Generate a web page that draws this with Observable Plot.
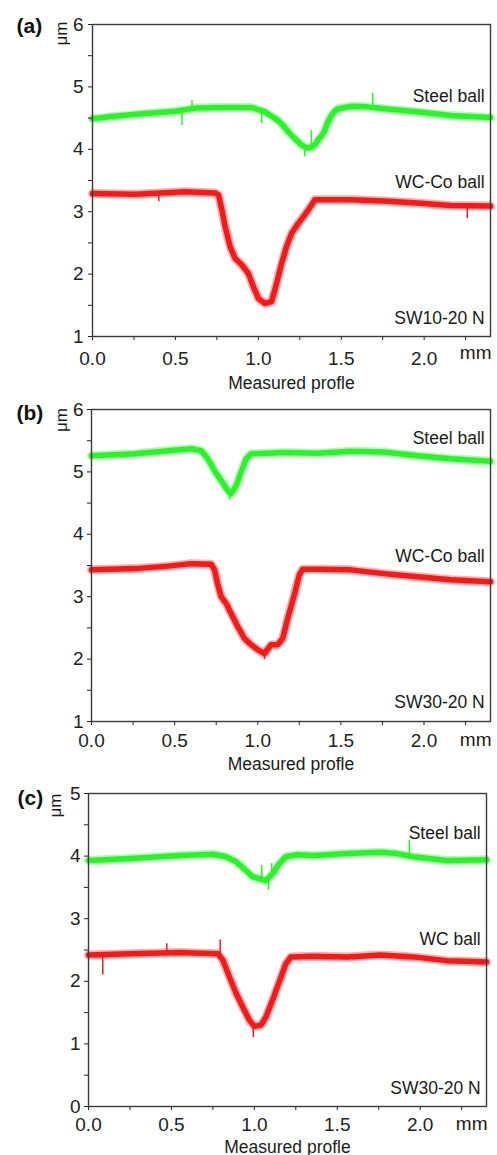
<!DOCTYPE html>
<html>
<head>
<meta charset="utf-8">
<script src="https://cdn.jsdelivr.net/npm/d3@7"></script>
<script src="https://cdn.jsdelivr.net/npm/@observablehq/plot@0.6"></script>
<style>
  body { margin: 0; background: #fff; width: 497px; }
  #chart svg { display: block; }
</style>
</head>
<body>
<div id="chart"></div>
<script>
// ---------- data ----------
const xMajorTicks = [0, 0.5, 1.0, 1.5, 2.0];
const xMinorTicks = [0.25, 0.75, 1.25, 1.75, 2.25];

// Panel (a) SW10-20 N
const aSteelX = [0, 0.1, 0.26, 0.4, 0.5, 0.62, 0.76, 0.96, 1.04, 1.08, 1.12, 1.15, 1.18, 1.21, 1.24, 1.26, 1.28, 1.30, 1.32, 1.34, 1.36, 1.38, 1.40, 1.42, 1.44, 1.46, 1.48, 1.56, 1.66, 1.76, 1.96, 2.16, 2.4];
const aSteelY = [4.49, 4.52, 4.56, 4.59, 4.61, 4.66, 4.67, 4.67, 4.60, 4.53, 4.46, 4.38, 4.28, 4.20, 4.12, 4.07, 4.04, 4.02, 4.04, 4.07, 4.15, 4.21, 4.30, 4.44, 4.54, 4.61, 4.65, 4.69, 4.68, 4.65, 4.60, 4.54, 4.51];
const aRedX = [0, 0.26, 0.56, 0.74, 0.76, 0.78, 0.80, 0.83, 0.86, 0.90, 0.94, 0.97, 1.00, 1.04, 1.08, 1.11, 1.14, 1.17, 1.20, 1.24, 1.28, 1.32, 1.34, 1.40, 1.56, 1.76, 1.96, 2.16, 2.4];
const aRedY = [3.29, 3.28, 3.32, 3.30, 3.27, 3.03, 2.76, 2.44, 2.25, 2.15, 2.01, 1.80, 1.61, 1.53, 1.56, 1.85, 2.17, 2.44, 2.65, 2.81, 2.95, 3.10, 3.19, 3.19, 3.19, 3.17, 3.14, 3.10, 3.09];
const aSpikeX  = [0.54, 0.60, 1.02, 1.69, 1.32, 1.28, 2.26, 0.40];
const aSpikeY1 = [4.58, 4.64, 4.60, 4.68, 4.04, 4.04, 3.10, 3.29];
const aSpikeY2 = [4.38, 4.78, 4.41, 4.90, 4.30, 3.88, 2.89, 3.16];
const aSpikeSeries = ["steel", "steel", "steel", "steel", "steel", "steel", "ball", "ball"];

// Panel (b) SW30-20 N
const bSteelX = [0, 0.26, 0.46, 0.6, 0.66, 0.70, 0.74, 0.78, 0.82, 0.84, 0.87, 0.90, 0.93, 0.96, 1.16, 1.36, 1.56, 1.76, 1.96, 2.16, 2.4];
const bSteelY = [5.26, 5.29, 5.34, 5.37, 5.34, 5.21, 5.02, 4.86, 4.70, 4.65, 4.78, 5.00, 5.21, 5.29, 5.31, 5.30, 5.33, 5.32, 5.26, 5.21, 5.17];
const bRedX = [0, 0.26, 0.46, 0.6, 0.72, 0.74, 0.76, 0.78, 0.81, 0.84, 0.88, 0.92, 0.96, 1.00, 1.04, 1.08, 1.12, 1.15, 1.18, 1.22, 1.25, 1.27, 1.36, 1.56, 1.76, 1.96, 2.16, 2.4];
const bRedY = [3.43, 3.45, 3.49, 3.53, 3.52, 3.43, 3.19, 3.00, 2.89, 2.73, 2.52, 2.33, 2.23, 2.15, 2.09, 2.23, 2.23, 2.33, 2.65, 3.03, 3.35, 3.44, 3.44, 3.43, 3.37, 3.32, 3.27, 3.24];
const bSpikeX  = [0.83, 1.04];
const bSpikeY1 = [4.68, 2.12];
const bSpikeY2 = [4.55, 1.99];
const bSpikeSeries = ["steel", "ball"];

// Panel (c) SW30-20 N
const cSteelX = [0, 0.25, 0.55, 0.75, 0.83, 0.89, 0.95, 0.99, 1.03, 1.07, 1.11, 1.15, 1.19, 1.25, 1.36, 1.56, 1.76, 1.86, 1.96, 2.16, 2.4];
const cSteelY = [3.93, 3.96, 4.01, 4.03, 3.99, 3.91, 3.77, 3.67, 3.64, 3.61, 3.72, 3.88, 3.99, 4.02, 4.01, 4.04, 4.06, 4.04, 3.99, 3.93, 3.94];
const cRedX = [0, 0.25, 0.55, 0.78, 0.81, 0.85, 0.89, 0.93, 0.97, 1.00, 1.04, 1.07, 1.11, 1.15, 1.19, 1.22, 1.36, 1.56, 1.76, 1.96, 2.16, 2.4];
const cRedY = [2.42, 2.44, 2.46, 2.44, 2.34, 2.07, 1.81, 1.59, 1.38, 1.28, 1.30, 1.43, 1.70, 1.99, 2.28, 2.39, 2.40, 2.39, 2.42, 2.39, 2.33, 2.31];
const cSpikeX  = [1.935, 1.045, 1.105, 1.085, 0.086, 0.794, 0.472, 0.994];
const cSpikeY1 = [4.03, 3.64, 3.70, 3.62, 2.42, 2.44, 2.45, 1.30];
const cSpikeY2 = [4.25, 3.85, 3.88, 3.45, 2.10, 2.66, 2.60, 1.10];
const cSpikeSeries = ["steel", "steel", "steel", "steel", "ball", "ball", "ball", "ball"];

const seriesColors = {steel: "#2cf22c", ball: "#f41a1a"};

// ---------- drawing ----------
const FONT = "'Liberation Sans', Arial, Helvetica, sans-serif";

function pts(xs, ys) { return xs.map((x, i) => ({x, y: ys[i]})); }

function panel(cfg) {
  const steel = pts(cfg.steelX, cfg.steelY);
  const ball = pts(cfg.redX, cfg.redY);
  const spikes = cfg.spikeX.map((x, i) => ({x, y1: cfg.spikeY1[i], y2: cfg.spikeY2[i], s: cfg.spikeS[i]}));
  const yMajor = d3.range(cfg.yDomain[0], cfg.yDomain[1] + 0.001, 1);
  const yMinor = d3.range(cfg.yDomain[0] + 0.5, cfg.yDomain[1], 1);
  const lbl = (text, y) => Plot.text([text], {x: 2.365, y, text: d => d, textAnchor: "end", lineAnchor: "bottom", fontSize: 17.5, fill: "#1a1a1a"});
  return Plot.plot({
    width: 497,
    height: cfg.height,
    marginTop: cfg.mt, marginBottom: cfg.mb, marginLeft: cfg.ml, marginRight: cfg.mr,
    x: {domain: [0, 2.4], label: null},
    y: {domain: cfg.yDomain, label: null},
    style: {fontFamily: FONT, fontSize: "19px", color: "#222", background: "white", overflow: "visible"},
    marks: [
      // noisy profile bands
      Plot.line(steel, {x: "x", y: "y", stroke: seriesColors.steel, strokeWidth: 9, strokeOpacity: 0.35}),
      Plot.line(steel, {x: "x", y: "y", stroke: seriesColors.steel, strokeWidth: 5.5}),
      Plot.line(ball, {x: "x", y: "y", stroke: seriesColors.ball, strokeWidth: 9, strokeOpacity: 0.35}),
      Plot.line(ball, {x: "x", y: "y", stroke: seriesColors.ball, strokeWidth: 5.5}),
      Plot.ruleX(spikes, {x: "x", y1: "y1", y2: "y2", stroke: d => seriesColors[d.s], strokeWidth: 1.5}),
      // axes
      Plot.axisY({ticks: yMajor, tickSize: 4, tickPadding: cfg.ypad, tickFormat: d3.format("d"), label: null, fontSize: 19}),
      Plot.axisY({ticks: yMinor, tickSize: 4, text: null, label: null}),
      Plot.axisX({ticks: xMajorTicks, tickSize: 4, tickPadding: cfg.xpad, tickFormat: d3.format(".1f"), label: null, fontSize: 19}),
      Plot.axisX({ticks: xMinorTicks, tickSize: 4, text: null, label: null}),
      Plot.frame({stroke: "#3a3a3a", strokeWidth: 1.4}),
      // annotations
      lbl("Steel ball", cfg.steelLblY),
      lbl(cfg.ballName, cfg.ballLblY),
      lbl(cfg.sample, cfg.sampleLblY),
      Plot.text(["mm"], {frameAnchor: "bottom-right", text: d => d, textAnchor: "end", lineAnchor: "bottom", dx: 1, dy: cfg.mmDy, fontSize: 19, fill: "#1a1a1a"}),
      Plot.text(["Measured profle"], {frameAnchor: "bottom", text: d => d, textAnchor: "middle", lineAnchor: "bottom", dy: cfg.mpDy, fontSize: 17.5, fill: "#1a1a1a"}),
      Plot.text([cfg.tag], {frameAnchor: "top-left", text: d => d, textAnchor: "start", lineAnchor: "bottom", dx: cfg.tagDx, dy: cfg.tagDy, fontSize: 21, fontWeight: "bold", fill: "#111"}),
      Plot.text(["μm"], {frameAnchor: "top-left", text: d => d, textAnchor: "middle", lineAnchor: "middle", rotate: -90, dx: cfg.umDx, dy: cfg.umDy, fontSize: 17, fill: "#1a1a1a"})
    ]
  });
}

const chart = document.getElementById("chart");
chart.append(panel({
  height: 392, mt: 24, mb: 56, ml: 92, mr: 7, yDomain: [1, 6], ypad: 5, xpad: 11,
  steelX: aSteelX, steelY: aSteelY, redX: aRedX, redY: aRedY,
  spikeX: aSpikeX, spikeY1: aSpikeY1, spikeY2: aSpikeY2, spikeS: aSpikeSeries,
  ballName: "WC-Co ball", sample: "SW10-20 N",
  steelLblY: 4.766, ballLblY: 3.372, sampleLblY: 1.208,
  mmDy: 22, mpDy: 52, tag: "(a)", tagDx: -76, tagDy: 8, umDx: -31, umDy: 9
}));
chart.append(panel({
  height: 380, mt: 17, mb: 51, ml: 91, mr: 7, yDomain: [1, 6], ypad: 4, xpad: 8,
  steelX: bSteelX, steelY: bSteelY, redX: bRedX, redY: bRedY,
  spikeX: bSpikeX, spikeY1: bSpikeY1, spikeY2: bSpikeY2, spikeS: bSpikeSeries,
  ballName: "WC-Co ball", sample: "SW30-20 N",
  steelLblY: 5.455, ballLblY: 3.564, sampleLblY: 1.224,
  mmDy: 24, mpDy: 48.5, tag: "(b)", tagDx: -75, tagDy: 10, umDx: -30, umDy: 10.5
}));
chart.append(panel({
  height: 383, mt: 21, mb: 49, ml: 88, mr: 11, yDomain: [0, 5], ypad: 4, xpad: 7,
  steelX: cSteelX, steelY: cSteelY, redX: cRedX, redY: cRedY,
  spikeX: cSpikeX, spikeY1: cSpikeY1, spikeY2: cSpikeY2, spikeS: cSpikeSeries,
  ballName: "WC ball", sample: "SW30-20 N",
  steelLblY: 4.281, ballLblY: 2.572, sampleLblY: 0.192,
  mmDy: 23, mpDy: 46.5, tag: "(c)", tagDx: -71, tagDy: 11, umDx: -33, umDy: 12
}));
</script>
</body>
</html>
